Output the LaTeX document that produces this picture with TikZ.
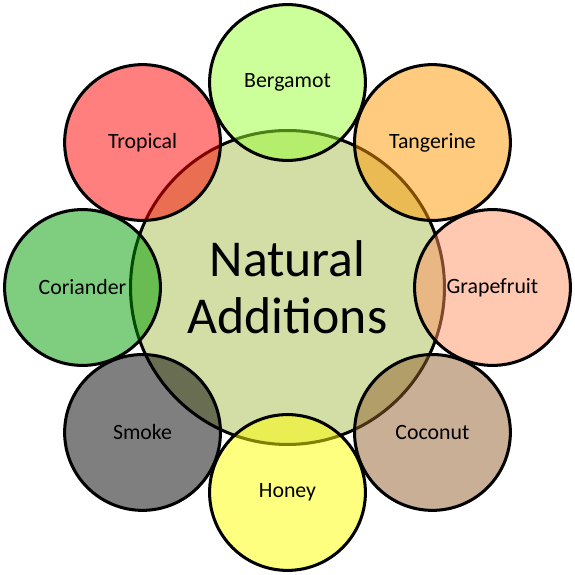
\documentclass[tikz,border=0pt]{standalone}
\usepackage{fontspec}
\setmainfont{Carlito}
\usepackage{xcolor}

\definecolor{hubfill}{RGB}{211,222,166}
\definecolor{bergamot}{RGB}{153,255,51}
\definecolor{tangerine}{RGB}{255,153,0}
\definecolor{grapefruit}{RGB}{255,145,97}
\definecolor{coconut}{RGB}{145,95,45}
\definecolor{honey}{RGB}{255,255,0}
\definecolor{smoke}{RGB}{0,0,0}
\definecolor{coriander}{RGB}{0,155,0}
\definecolor{tropical}{RGB}{255,0,0}

\begin{document}
\begin{tikzpicture}[
    line width=1.5pt,
    hub/.style={circle, draw=black, fill=hubfill, minimum size=5.46cm,
        inner sep=0pt, align=center, font=\fontsize{25.6}{28}\selectfont},
    petal/.style={circle, draw=black, fill=#1, fill opacity=0.5,
        text opacity=1, minimum size=2.71cm, inner sep=0pt,
        font=\fontsize{10.8}{13}\selectfont}
]
\useasboundingbox (-5,-5) rectangle (5,5);

% Hub
\node[hub] (hub) at (0,0) {Natural\\Additions};

% Petals
\node[petal=bergamot] (bergamot) at (90:3.565) {Bergamot};
\node[petal=tangerine] (tangerine) at (45:3.565) {Tangerine};
\node[petal=grapefruit] (grapefruit) at (0:3.565) {Grapefruit};
\node[petal=coconut] (coconut) at (-45:3.565) {Coconut};
\node[petal=honey] (honey) at (-90:3.565) {Honey};
\node[petal=smoke] (smoke) at (-135:3.565) {Smoke};
\node[petal=coriander] (coriander) at (180:3.565) {Coriander};
\node[petal=tropical] (tropical) at (135:3.565) {Tropical};
\end{tikzpicture}
\end{document}
